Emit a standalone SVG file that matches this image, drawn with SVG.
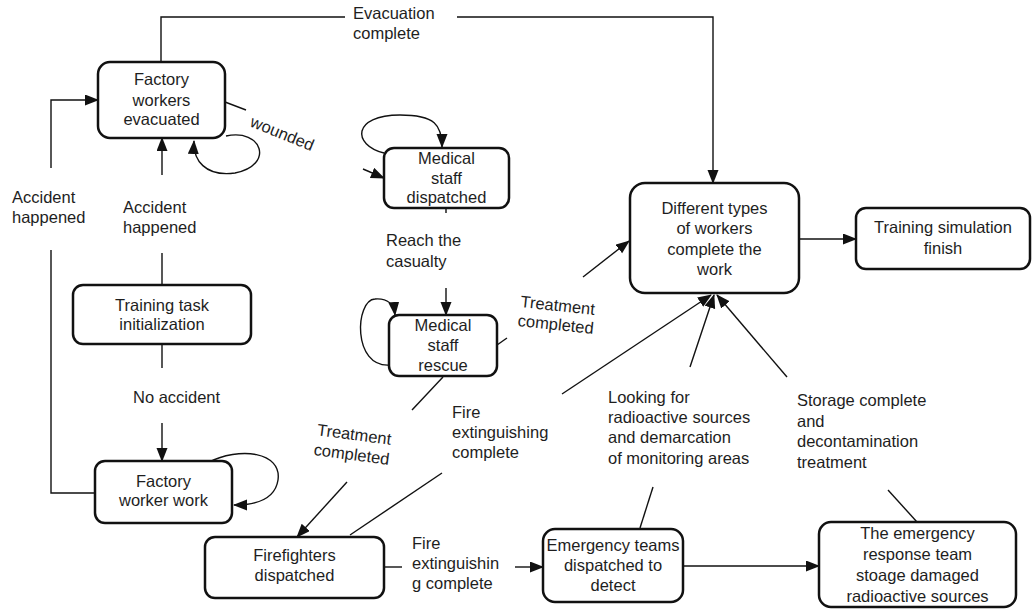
<svg xmlns="http://www.w3.org/2000/svg" width="1034" height="611" viewBox="0 0 1034 611">
<style>
.box{fill:#fff;stroke:#111;stroke-width:2.5}
.e{fill:none;stroke:#111;stroke-width:1.4}
.a{marker-end:url(#arr)}
text{font-family:"Liberation Sans",Arial,sans-serif;font-size:16.5px;fill:#1e1e1e}
.c{text-anchor:middle}
</style>
<defs>
<marker id="arr" markerUnits="userSpaceOnUse" markerWidth="14" markerHeight="12" refX="13" refY="5.5" orient="auto">
<path d="M0,0 L14,5.5 L0,11 z" fill="#111"/>
</marker>
</defs>
<rect width="1034" height="611" fill="#fff"/>
<g id="connectors">
<path class="e" d="M161,62 V17 H345"/>
<path class="e a" d="M457,17 H713 V183"/>
<path class="e" d="M95,493 H51 V250"/>
<path class="e a" d="M51,168 V100 H98"/>
<path class="e" d="M162,285 V253"/>
<path class="e a" d="M162,175 V138"/>
<path class="e" d="M162,344 V368"/>
<path class="e a" d="M162,423 V461"/>
<path class="e a" d="M207,463 C240,446 282,452 278,480 C275,500 255,505 234,505"/>
<path class="e a" d="M226,136 C262,128 275,165 235,173 C205,177 193,160 194,141"/>
<path class="e" d="M225,102 L246,110"/>
<path class="e a" d="M363,169 L384,178"/>
<path class="e a" d="M384,153 C352,145 352,115 400,115 C435,115 442,125 442,147"/>
<path class="e" d="M446,208 V213"/>
<path class="e a" d="M446,288 V315"/>
<path class="e a" d="M390,365 C352,368 355,300 375,299 C388,298 394,305 395,315"/>
<path class="e" d="M497,345 L507,338"/>
<path class="e a" d="M583,277 L629,241"/>
<path class="e" d="M443,377 L412,410"/>
<path class="e a" d="M347,482 L297,537"/>
<path class="e" d="M350,535 L442,473"/>
<path class="e a" d="M562,394 L711,295"/>
<path class="e" d="M640,528 L653,487"/>
<path class="e a" d="M690,367 L714,295"/>
<path class="e" d="M917,522 L888,490"/>
<path class="e a" d="M787,377 L717,295"/>
<path class="e a" d="M799,239 L856,239"/>
<path class="e" d="M384,567 L402,567"/>
<path class="e a" d="M515,567 L543,567"/>
<path class="e a" d="M683,566 L819,566"/>
</g>
<g id="labels">
<text x="353" y="19">Evacuation</text>
<text x="353" y="39">complete</text>
<text x="12" y="203">Accident</text>
<text x="12" y="223">happened</text>
<text x="123" y="213">Accident</text>
<text x="123" y="233">happened</text>
<text x="133" y="403">No accident</text>
<text x="386" y="246">Reach the</text>
<text x="386" y="267">casualty</text>
<text class="c" transform="translate(282,134) rotate(22)" y="5">wounded</text>
<text class="c" transform="translate(557,313) rotate(6)"><tspan x="0" y="-2">Treatment</tspan><tspan x="0" y="17">completed</tspan></text>
<text class="c" transform="translate(353,444) rotate(7.5)"><tspan x="0" y="-4">Treatment</tspan><tspan x="0" y="16">completed</tspan></text>
<text x="452" y="418">Fire</text>
<text x="452" y="438">extinguishing</text>
<text x="452" y="458">complete</text>
<text x="608" y="403">Looking for</text>
<text x="608" y="423">radioactive sources</text>
<text x="608" y="443">and demarcation</text>
<text x="608" y="464">of monitoring areas</text>
<text x="797" y="406">Storage complete</text>
<text x="797" y="427">and</text>
<text x="797" y="447">decontamination</text>
<text x="797" y="468">treatment</text>
<text x="412" y="549">Fire</text>
<text x="412" y="569">extinguishin</text>
<text x="412" y="589">g complete</text>
</g>
<g id="n_evacuated">
<rect class="box" x="98" y="62" width="127" height="76" rx="12"/>
<text class="c" x="161.5" y="85">Factory</text>
<text class="c" x="161.5" y="106">workers</text>
<text class="c" x="161.5" y="125">evacuated</text>
</g>
<g id="n_med_dispatched">
<rect class="box" x="384" y="148" width="125" height="60" rx="10"/>
<text class="c" x="446.5" y="164">Medical</text>
<text class="c" x="446.5" y="184">staff</text>
<text class="c" x="446.5" y="203">dispatched</text>
</g>
<g id="n_med_rescue">
<rect class="box" x="389" y="315" width="108" height="61" rx="10"/>
<text class="c" x="443" y="331">Medical</text>
<text class="c" x="443" y="351">staff</text>
<text class="c" x="443" y="371">rescue</text>
</g>
<g id="n_complete">
<rect class="box" x="630" y="183" width="169" height="110" rx="15"/>
<text class="c" x="714.5" y="214">Different types</text>
<text class="c" x="714.5" y="234">of workers</text>
<text class="c" x="714.5" y="255">complete the</text>
<text class="c" x="714.5" y="275">work</text>
</g>
<g id="n_finish">
<rect class="box" x="856" y="208" width="174" height="61" rx="10"/>
<text class="c" x="943" y="233">Training simulation</text>
<text class="c" x="943" y="254">finish</text>
</g>
<g id="n_emergency">
<rect class="box" x="543" y="529" width="140" height="73" rx="12"/>
<text class="c" x="613" y="551">Emergency teams</text>
<text class="c" x="613" y="571">dispatched to</text>
<text class="c" x="613" y="591">detect</text>
</g>
<g id="n_storage">
<rect class="box" x="819" y="522" width="197" height="85" rx="12"/>
<text class="c" x="917.5" y="539">The emergency</text>
<text class="c" x="917.5" y="560">response team</text>
<text class="c" x="917.5" y="581">stoage damaged</text>
<text class="c" x="917.5" y="602">radioactive sources</text>
</g>
<g id="n_firefighters">
<rect class="box" x="205" y="537" width="179" height="61" rx="10"/>
<text class="c" x="294.5" y="561">Firefighters</text>
<text class="c" x="294.5" y="581">dispatched</text>
</g>
<g id="n_init">
<rect class="box" x="73" y="285" width="178" height="59" rx="10"/>
<text class="c" x="162" y="311">Training task</text>
<text class="c" x="162" y="330">initialization</text>
</g>
<g id="n_work">
<rect class="box" x="95" y="461" width="137" height="62" rx="10"/>
<text class="c" x="163.5" y="487">Factory</text>
<text class="c" x="163.5" y="506">worker work</text>
</g>
</svg>
